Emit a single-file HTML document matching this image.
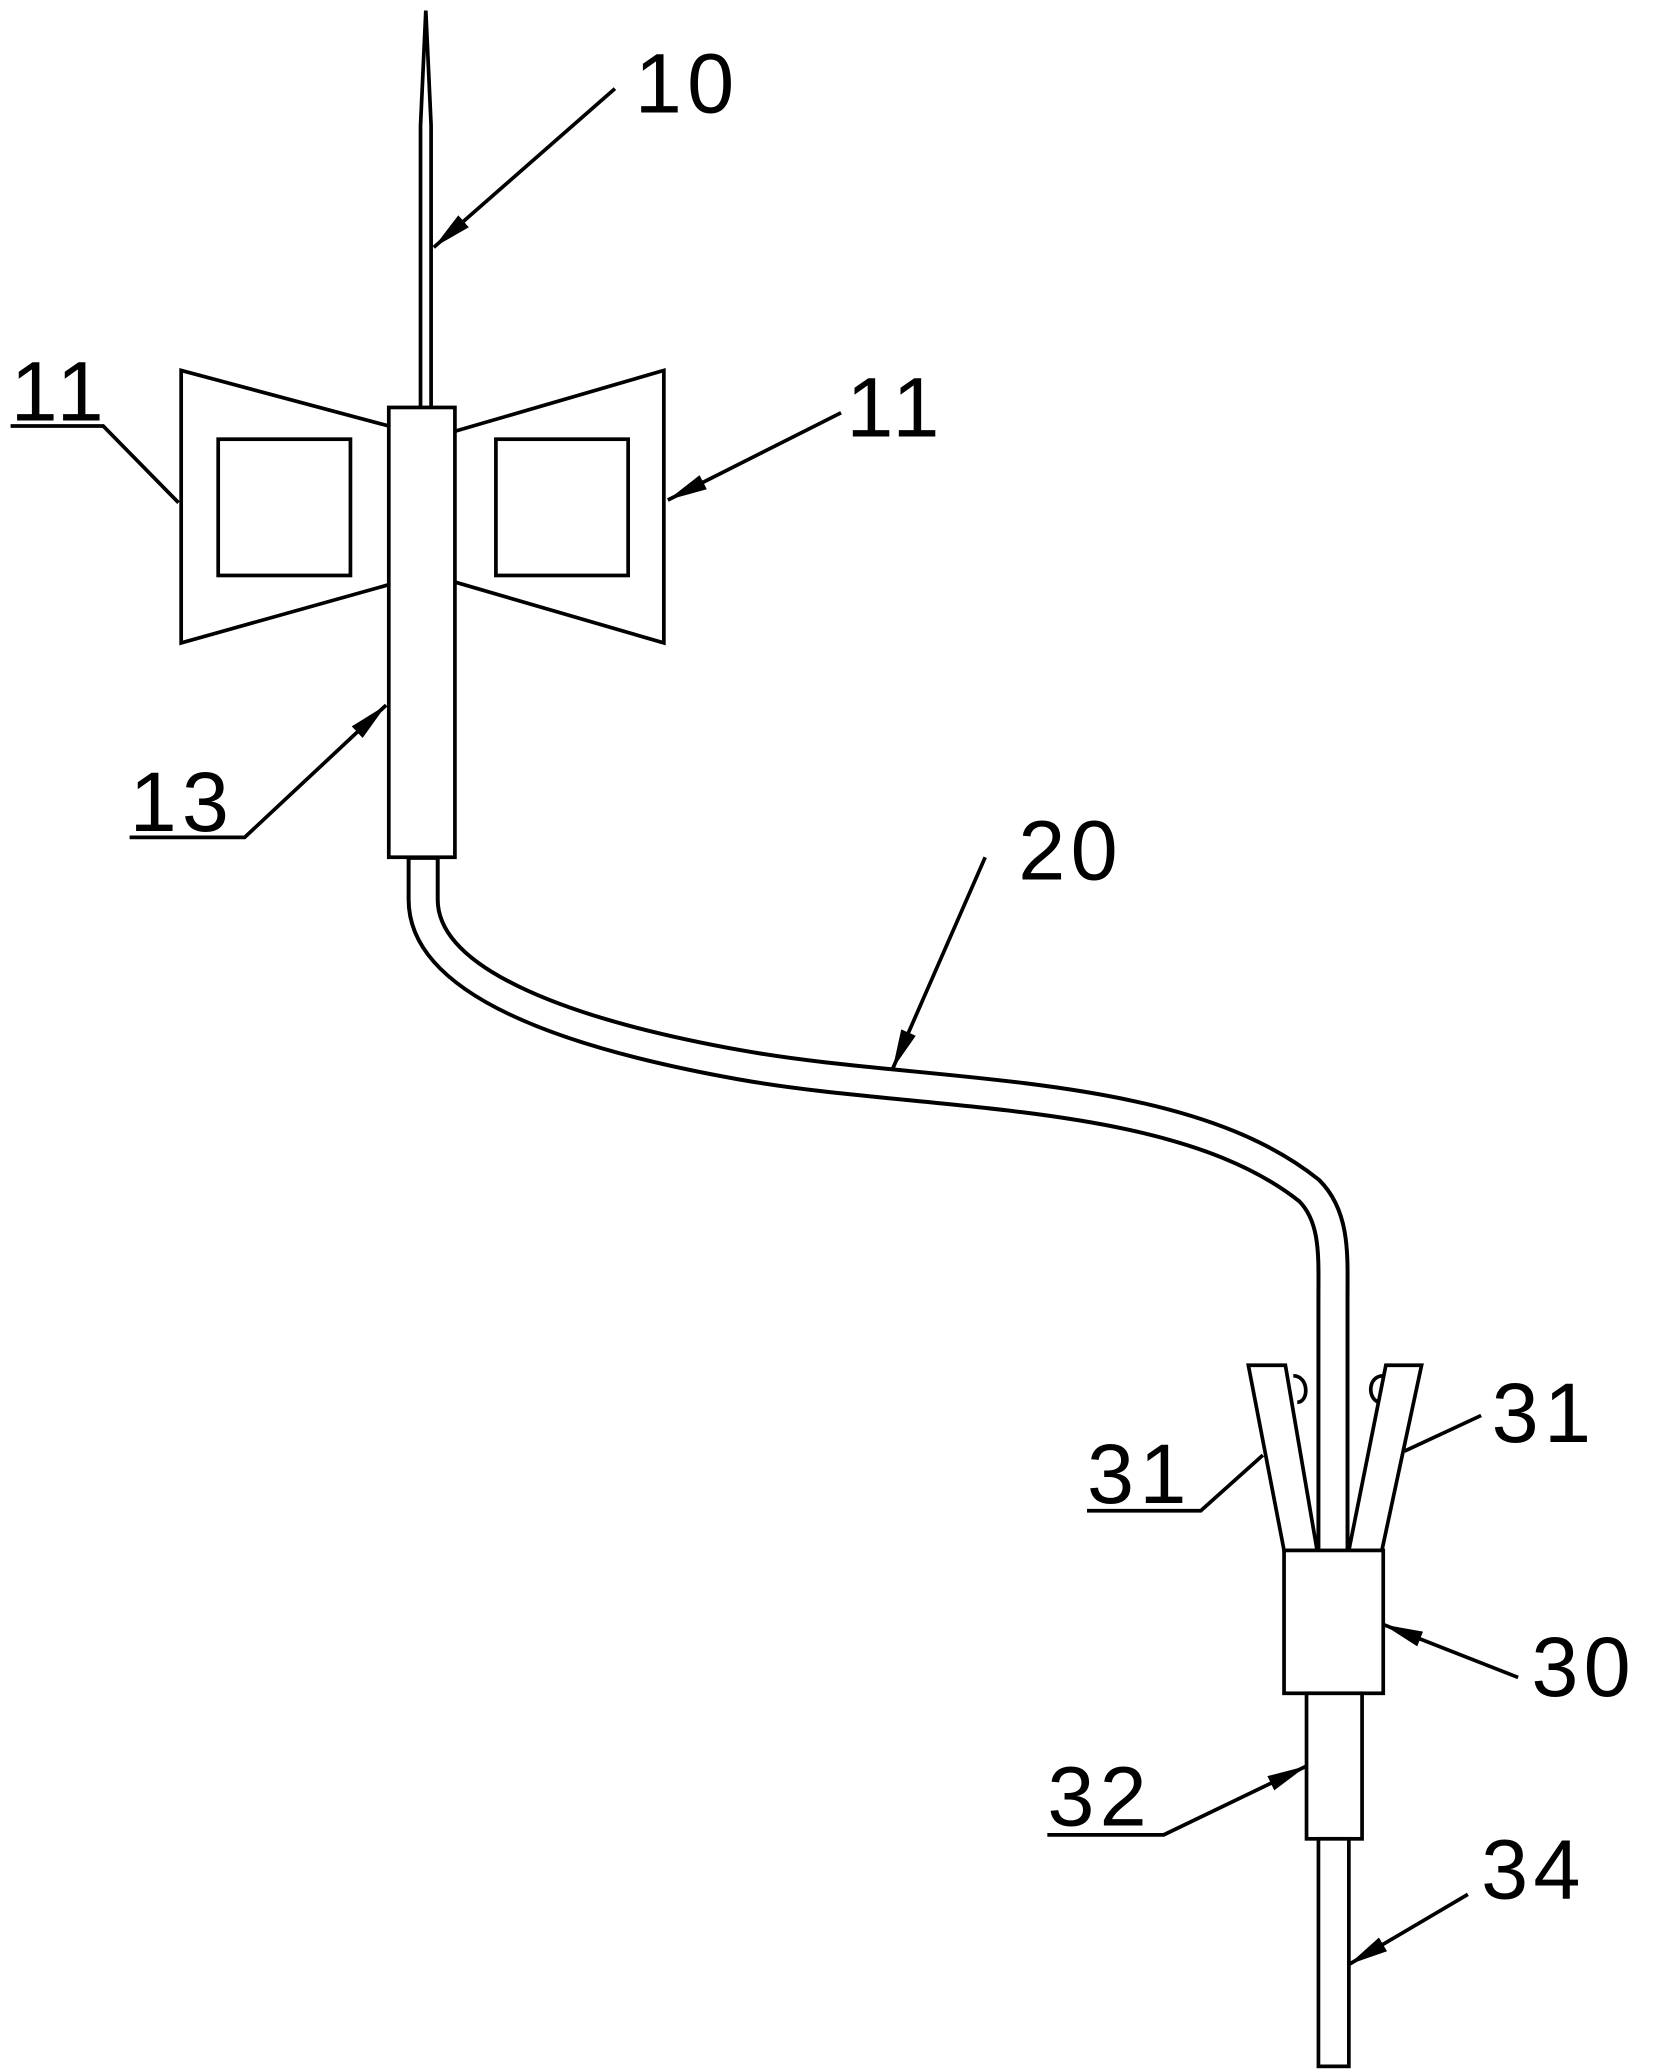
<!DOCTYPE html>
<html><head><style>html,body{margin:0;padding:0;background:#fff}svg{display:block}</style></head>
<body>
<svg width="1653" height="2069" viewBox="0 0 1250 1564" preserveAspectRatio="none" xmlns="http://www.w3.org/2000/svg">
<defs>
<marker id="b" viewBox="0 0 30 12" refX="30" refY="6" markerWidth="30" markerHeight="12" markerUnits="userSpaceOnUse" orient="auto"><path d="M0,0 L30,6 L0,12 z" fill="#000"/></marker></defs>
<g fill="none" stroke="#000" stroke-width="2.8">
<path d="M318,308 L318,95 L322,8 L326,95 L326,308"/>
<rect x="294" y="308" width="50" height="340" fill="#fff"/>
<path d="M294,322 L137,280 L137,486 L294,442"/>
<rect x="165" y="332" width="100" height="103"/>
<path d="M344,326 L502,280 L502,486 L344,440"/>
<rect x="375" y="332" width="100" height="103"/>
</g>
<path d="M320,648 L320,680 C320,740 420,780 560,805 C700,830 890,820 990,900 C1010,920 1008,950 1008,980 L1008,1172" fill="none" stroke="#000" stroke-width="25"/>
<path d="M320,650 L320,680 C320,740 420,780 560,805 C700,830 890,820 990,900 C1010,920 1008,950 1008,980 L1008,1172" fill="none" stroke="#fff" stroke-width="19"/>
<g fill="#fff" stroke="#000" stroke-width="2.8">
<path d="M944,1032 L972,1032 L996,1172 L971,1172 Z"/>
<path d="M1048,1032 L1075,1032 L1045,1172 L1020,1172 Z"/>
<path d="M978,1040 C990,1040 990,1060 981,1060" fill="none"/>
<path d="M1046,1040 C1034,1040 1034,1058 1043,1060" fill="none"/>
<rect x="971" y="1172" width="75" height="108"/>
<rect x="988" y="1280" width="42" height="110"/>
<rect x="997" y="1390" width="23" height="172"/>
</g>
<g fill="none" stroke="#000" stroke-width="2.8">
<path d="M8,322 L78,322 L135,380"/>
<path d="M636,312 L505,378" marker-end="url(#b)"/>
<path d="M465,67 L328,187" marker-end="url(#b)"/>
<path d="M98,633 L185,633 L292,533" marker-end="url(#b)"/>
<path d="M745,648 L675,808" marker-end="url(#b)"/>
<path d="M822,1142 L908,1142 L955,1100"/>
<path d="M1120,1070 L1062,1097"/>
<path d="M1148,1268 L1046,1228" marker-end="url(#b)"/>
<path d="M792,1387 L880,1387 L988,1335" marker-end="url(#b)"/>
<path d="M1110,1432 L1020,1485" marker-end="url(#b)"/>
</g>
<g font-family="Liberation Sans, sans-serif" font-size="64" fill="#000" letter-spacing="4">
<text x="480" y="85">10</text>
<text x="8" y="318">11</text>
<text x="640" y="330">11</text>
<text x="98" y="628">13</text>
<text x="770" y="665">20</text>
<text x="822" y="1136">31</text>
<text x="1128" y="1090">31</text>
<text x="1158" y="1282">30</text>
<text x="792" y="1380">32</text>
<text x="1120" y="1435">34</text>
</g>
</svg>
</body></html>
